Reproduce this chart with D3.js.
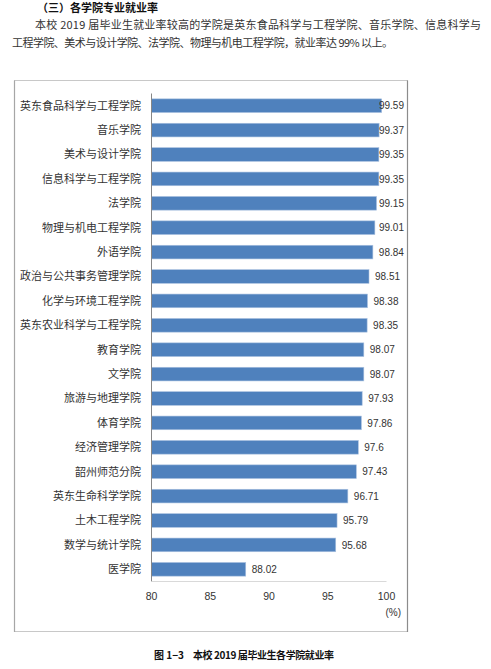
<!DOCTYPE html>
<html><head><meta charset="utf-8">
<script src="https://cdn.jsdelivr.net/npm/d3@7"></script>
<style>
body{margin:0;background:#fff;}
svg{display:block;}
</style></head>
<body>
<svg id="c" width="491" height="669"></svg>
<script>
const categories = ["英东食品科学与工程学院","音乐学院","美术与设计学院","信息科学与工程学院","法学院","物理与机电工程学院","外语学院","政治与公共事务管理学院","化学与环境工程学院","英东农业科学与工程学院","教育学院","文学院","旅游与地理学院","体育学院","经济管理学院","韶州师范分院","英东生命科学学院","土木工程学院","数学与统计学院","医学院"];
const values = [99.59,99.37,99.35,99.35,99.15,99.01,98.84,98.51,98.38,98.35,98.07,98.07,97.93,97.86,97.6,97.43,96.71,95.79,95.68,88.02];
const labels = ["99.59","99.37","99.35","99.35","99.15","99.01","98.84","98.51","98.38","98.35","98.07","98.07","97.93","97.86","97.6","97.43","96.71","95.79","95.68","88.02"];
const xTicks = [80,85,90,95,100];
const heading = "（三）各学院专业就业率";
const para1 = "本校 2019 届毕业生就业率较高的学院是英东食品科学与工程学院、音乐学院、信息科学与";
const para2 = "工程学院、美术与设计学院、法学院、物理与机电工程学院，就业率达 99% 以上。";
const captionNo = "图 1−3";
const captionText = "本校 2019 届毕业生各学院就业率";

const svg = d3.select("#c");
const cjk = "'Noto Sans CJK SC', 'Noto Sans', sans-serif";
const num = "'Liberation Sans', Arial, sans-serif";

// header text
svg.append("text").attr("x",37).attr("y",12).attr("font-family",cjk).attr("font-size",11).attr("font-weight","bold").attr("fill","#111").text(heading);
svg.append("text").attr("x",35).attr("y",29).attr("font-family",cjk).attr("font-size",11).attr("fill","#333")
  .attr("textLength",446).attr("lengthAdjust","spacing").text(para1);
svg.append("text").attr("x",12).attr("y",47).attr("font-family",cjk).attr("font-size",11).attr("fill","#333")
  .attr("textLength",381).attr("lengthAdjust","spacing").text(para2);

// frame
svg.append("rect").attr("x",14.5).attr("y",80.5).attr("width",393).attr("height",551).attr("fill","#fff").attr("stroke","#c8c8c8").attr("stroke-width",1);
svg.append("line").attr("x1",407.5).attr("x2",407.5).attr("y1",80.5).attr("y2",632).attr("stroke","#8c8c8c").attr("stroke-width",1.2);
svg.append("line").attr("x1",14.5).attr("x2",14.5).attr("y1",80.5).attr("y2",632).attr("stroke","#a6a6a6").attr("stroke-width",1.2);

const x = d3.scaleLinear().domain([80,100]).range([151.5,386.5]);
const y = d3.scaleBand().domain(categories).range([93.5,581.5]).paddingInner(0.44).paddingOuter(0.22);

// bars
svg.append("g").selectAll("rect").data(values).join("rect")
  .attr("x",x(80)).attr("y",(d,i)=>y(categories[i]))
  .attr("width",d=>x(d)-x(80)).attr("height",y.bandwidth())
  .attr("fill","#4f81bd").attr("stroke","#a9c0df").attr("stroke-width",0.6);

// axes lines
svg.append("line").attr("x1",x(80)).attr("x2",x(80)).attr("y1",93.5).attr("y2",581.5).attr("stroke","#868686").attr("stroke-width",1);
svg.append("line").attr("x1",x(80)).attr("x2",x(100)).attr("y1",581.5).attr("y2",581.5).attr("stroke","#d9d9d9").attr("stroke-width",1);

// category labels
svg.append("g").selectAll("text").data(categories).join("text")
  .attr("x",141).attr("y",d=>y(d)+y.bandwidth()/2).attr("dy","0.36em")
  .attr("text-anchor","end").attr("font-family",cjk).attr("font-size",11).attr("fill","#333").text(d=>d);

// value labels
const vl = svg.append("g").selectAll("text").data(values).join("text")
  .attr("y",(d,i)=>y(categories[i])+y.bandwidth()/2).attr("dy","0.36em")
  .attr("font-family",num).attr("font-size",10).attr("fill","#333").text((d,i)=>labels[i]);
vl.each(function(d){
  const w = this.getComputedTextLength();
  const xs = Math.min(x(d)+6, 404 - w);
  d3.select(this).attr("x", xs);
});

// x ticks
svg.append("g").selectAll("text").data(xTicks).join("text")
  .attr("x",d=>x(d)).attr("y",596).attr("dy","0.36em").attr("text-anchor","middle")
  .attr("font-family",num).attr("font-size",10.5).attr("fill","#333").text(d=>d);
svg.append("text").attr("x",401).attr("y",612).attr("dy","0.36em").attr("text-anchor","end")
  .attr("font-family",num).attr("font-size",10).attr("fill","#333").text("(%)");

// caption
svg.append("text").attr("x",154).attr("y",659).attr("font-family",cjk).attr("font-size",10).attr("font-weight","bold").attr("fill","#111")
  .attr("textLength",30).attr("lengthAdjust","spacing").text(captionNo);
svg.append("text").attr("x",193).attr("y",659).attr("font-family",cjk).attr("font-size",10).attr("font-weight","bold").attr("fill","#111")
  .attr("textLength",141).attr("lengthAdjust","spacing").text(captionText);
</script>
</body></html>
